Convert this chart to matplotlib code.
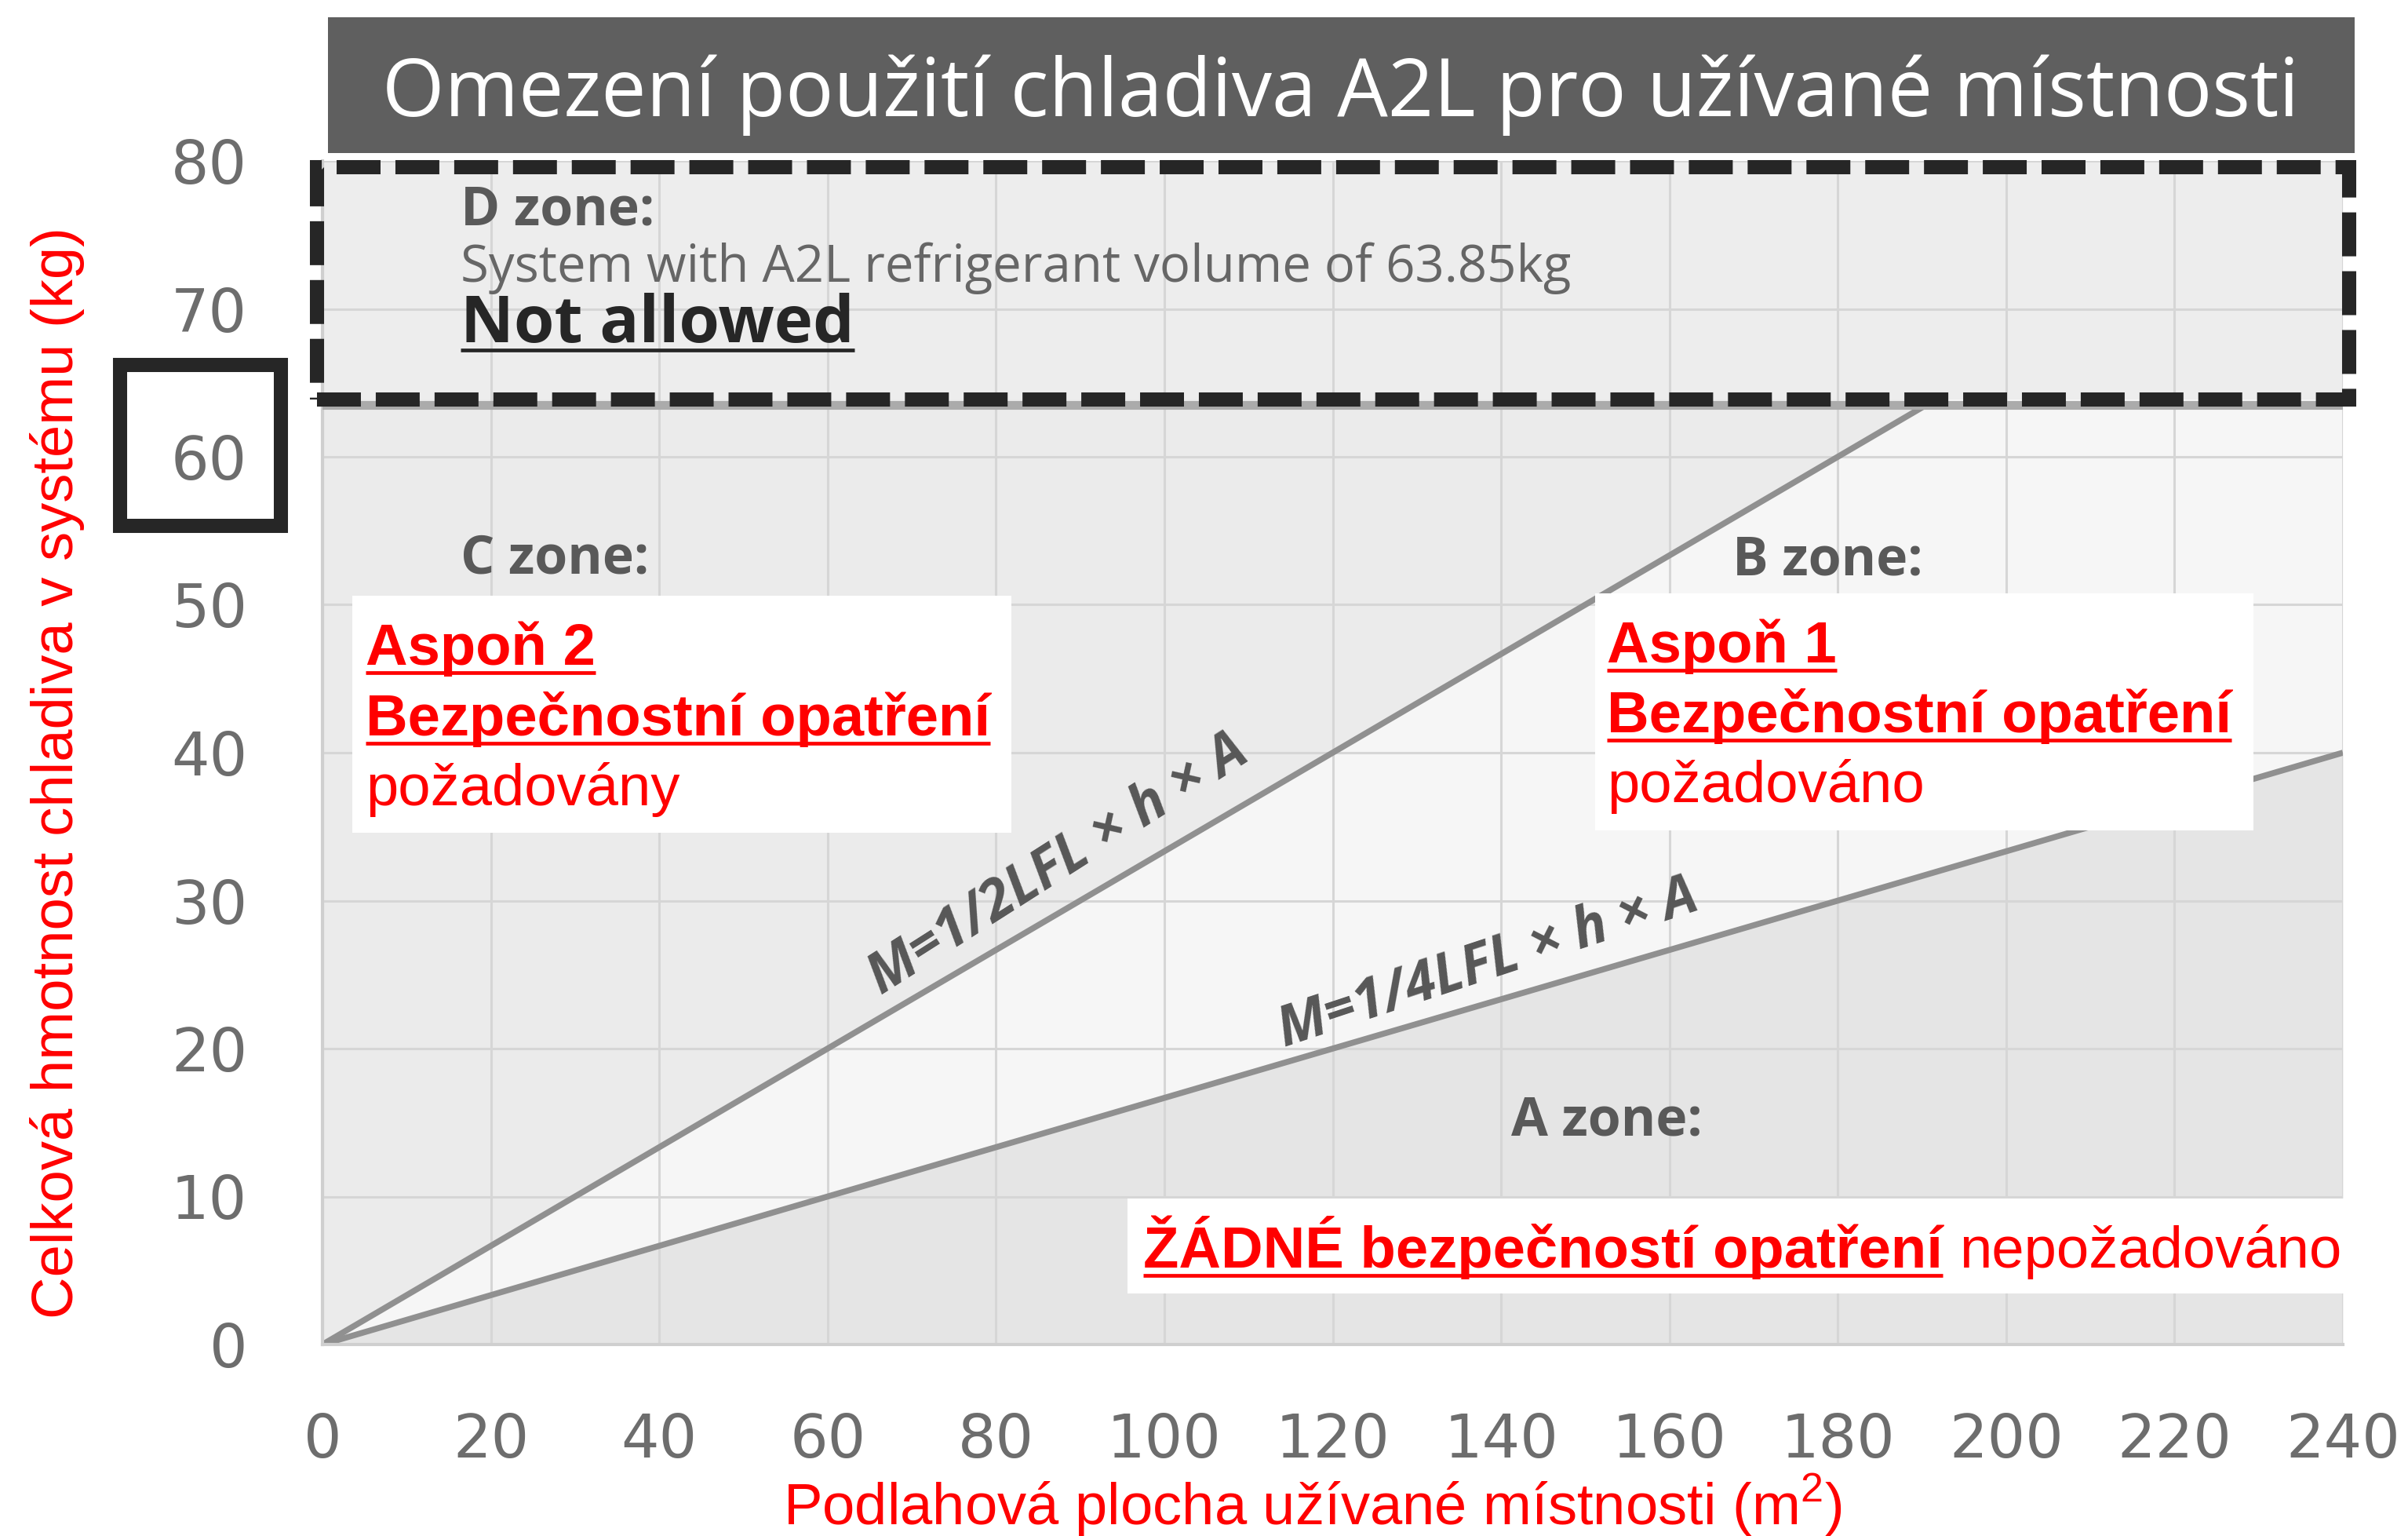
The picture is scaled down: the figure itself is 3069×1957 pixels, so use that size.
import numpy as np
import matplotlib.pyplot as plt
from matplotlib.patches import Rectangle
from matplotlib.lines import Line2D

plt.rcParams["mathtext.fontset"] = "custom"
plt.rcParams["mathtext.rm"] = "Liberation Sans"

# Data: refrigerant charge limits vs. floor area
area_m2 = [0, 240]
mass_half_lfl = [0, 80]       # M = 1/2 LFL x h x A
mass_quarter_lfl = [0, 40]    # M = 1/4 LFL x h x A
d_zone_limit = 63.85          # kg, above this A2L is not allowed
x_ticks = [0, 20, 40, 60, 80, 100, 120, 140, 160, 180, 200, 220, 240]
y_ticks = [0, 10, 20, 30, 40, 50, 60, 70, 80]

title = "Omezení použití chladiva A2L pro užívané místnosti"
x_label = "Podlahová plocha užívané místnosti (m$^\\mathregular{2}$)"
y_label = "Celková hmotnost chladiva v systému (kg)"

# Colours
C_ZONE = "#ebebeb"
B_ZONE = "#f6f6f6"
A_ZONE = "#e5e5e5"
D_ZONE = "#ededed"
GRID = "#d6d6d6"
LINE = "#909090"
LABEL_GREY = "#595959"
RED = "#ff0000"

W, H = 3069, 1957
fig = plt.figure(figsize=(W / 100, H / 100), dpi=100)
ax = fig.add_axes([411 / W, 1 - 1713 / H, 2575 / W, 1508 / H])

ax.set_xlim(area_m2[0], area_m2[-1])
ax.set_ylim(0, y_ticks[-1])
ax.set_facecolor(C_ZONE)

# zone fills
ax.fill_between(area_m2, mass_quarter_lfl, mass_half_lfl, color=B_ZONE, lw=0, zorder=0.1)
ax.fill_between(area_m2, 0, mass_quarter_lfl, color=A_ZONE, lw=0, zorder=0.1)
ax.add_patch(Rectangle((area_m2[0], d_zone_limit), area_m2[-1], y_ticks[-1] - d_zone_limit,
                       facecolor=D_ZONE, lw=0, zorder=0.2))

ax.set_axisbelow(True)
ax.grid(True, color=GRID, lw=2.2)
ax.set_xticks(x_ticks)
ax.set_yticks(y_ticks)
ax.tick_params(length=0, labelsize=55, labelcolor="#6d6d6d")
ax.tick_params(axis="x", pad=62)
ax.tick_params(axis="y", pad=69)
for s in ["top", "right"]:
    ax.spines[s].set_visible(False)
for s in ["left", "bottom"]:
    ax.spines[s].set_color("#cfcfcf")
    ax.spines[s].set_linewidth(3)

# limit lines, cut at the D zone
below_d = Rectangle((area_m2[0], 0), area_m2[-1], d_zone_limit, transform=ax.transData)
for m in [mass_half_lfl, mass_quarter_lfl]:
    ln, = ax.plot(area_m2, m, color=LINE, lw=5.5, zorder=2, solid_capstyle="butt")
    ln.set_clip_path(below_d)

# D zone frame
ax.axhline(d_zone_limit - 0.35, color="#ababab", lw=8, zorder=3.9)
ax.add_patch(Rectangle((-0.65, d_zone_limit), 241.35, 79.6 - d_zone_limit, fill=False,
                       edgecolor="#262626", lw=13, linestyle=(0, (3.1, 1.05)),
                       joinstyle="miter", clip_on=False, zorder=4))

# formula labels along the lines
formula_font = dict(family="Open Sans", style="italic", weight="bold", fontsize=51,
                    color="#575757", rotation_mode="anchor", ha="left", va="baseline",
                    transform_rotates_text=True, zorder=3)
ang_half = np.degrees(np.arctan2(mass_half_lfl[1], area_m2[1]))
ang_quarter = np.degrees(np.arctan2(mass_quarter_lfl[1], area_m2[1]))
ax.text(66.4, 23.6, "M=1/2LFL × h × A", rotation=ang_half + 1.5, **formula_font)
ax.text(114.3, 20.1, "M=1/4LFL × h × A", rotation=ang_quarter + 1.2, **formula_font)

# zone headings
zone_font = dict(family="Open Sans", weight="bold", fontsize=49, color=LABEL_GREY,
                 va="baseline", zorder=6)
ax.text(16.4, 75.7, "D zone:", **zone_font)
ax.text(16.4, 52.1, "C zone:", **zone_font)
ax.text(167.5, 52.04, "B zone:", **zone_font)
ax.text(141.2, 14.16, "A zone:", **zone_font)
ax.text(16.4, 71.83, "System with A2L refrigerant volume of 63.85kg", family="Open Sans",
        fontsize=47, color="#666666", va="baseline", zorder=6)
not_allowed = ax.text(16.4, 67.74, "Not allowed", family="Open Sans", weight="bold",
                      fontsize=60, color="#262626", va="baseline", zorder=6)

# white note boxes
for (x0, y0, x1, y1) in [(3.54, 34.6, 81.8, 50.6), (151.2, 34.75, 229.4, 50.77),
                         (95.6, 3.45, 240.4, 9.87)]:
    ax.add_patch(Rectangle((x0, y0), x1 - x0, y1 - y0, facecolor="white", lw=0,
                           clip_on=False, zorder=5))

red_font = dict(family="Liberation Sans", fontsize=53.5, color=RED, va="baseline", zorder=6)
underlined = [(not_allowed, "#262626")]
underlined.append((ax.text(5.13, 45.94, "Aspoň 2", weight="bold", **red_font), RED))
underlined.append((ax.text(5.13, 41.17, "Bezpečnostní opatření", weight="bold", **red_font), RED))
ax.text(5.13, 36.45, "požadovány", **red_font)
underlined.append((ax.text(152.6, 46.1, "Aspoň 1", weight="bold", **red_font), RED))
underlined.append((ax.text(152.6, 41.38, "Bezpečnostní opatření", weight="bold", **red_font), RED))
ax.text(152.6, 36.66, "požadováno", **red_font)
none_txt = ax.text(97.5, 5.2, "ŽÁDNÉ bezpečností opatření", weight="bold", **red_font)
underlined.append((none_txt, RED))

# axis titles
fig.text(1673 / W, 1 - 1943 / H, x_label, family="Liberation Sans", fontsize=53.5,
         color=RED, ha="center", va="baseline")
fig.text(93 / W, 1 - 985 / H, y_label, family="Liberation Sans", fontsize=53.5,
         color=RED, rotation=90, rotation_mode="anchor", ha="center", va="baseline")

# title banner
fig.add_artist(Rectangle((418 / W, 1 - 195 / H), 2583 / W, 173 / H,
                         transform=fig.transFigure, color="#5f5f5f", lw=0))
fig.text(1709 / W, 1 - 148 / H, title, family="Open Sans", fontsize=73.5, color="white",
         ha="center", va="baseline")

# frame around the highlighted tick label
fig.add_artist(Rectangle((153 / W, 1 - 670 / H), 205 / W, 205 / H, transform=fig.transFigure,
                         fill=False, edgecolor="#262626", lw=13, joinstyle="miter"))

# underlines and the trailing regular text
renderer = fig.canvas.get_renderer()
inv = fig.transFigure.inverted()
for t, col in underlined:
    bb = t.get_window_extent(renderer)
    base_y = ax.transData.transform(t.get_position())[1]
    (fx0, fy), (fx1, _) = inv.transform([(bb.x0, base_y - 10), (bb.x1, base_y - 10)])
    fig.add_artist(Line2D([fx0, fx1], [fy, fy], color=col, lw=3.4, transform=fig.transFigure,
                          solid_capstyle="butt", zorder=7))

bb = none_txt.get_window_extent(renderer)
nx = ax.transData.inverted().transform((bb.x1 + 21, 0))[0]
ax.text(nx, 5.2, "nepožadováno", clip_on=False, **red_font)

fig.savefig("out.png", dpi=100)
